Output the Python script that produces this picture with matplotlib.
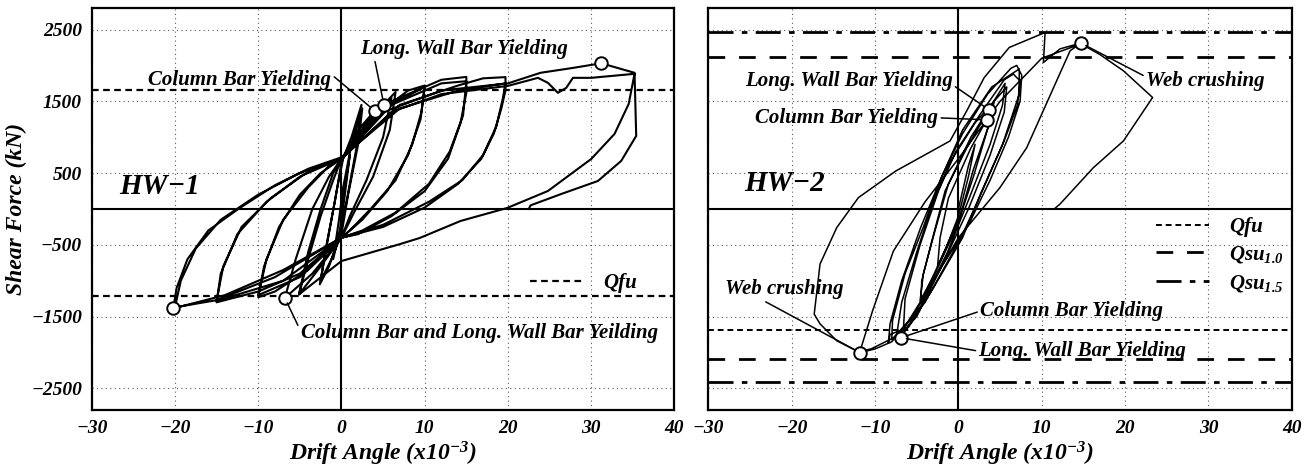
import matplotlib as mpl
mpl.use('Agg')
import matplotlib.pyplot as plt

plt.rc('font', family='Liberation Serif', weight='bold', style='italic', size=14.5)
plt.rc('axes', labelweight='bold')
plt.rc('mathtext', fontset='custom', rm='Liberation Serif:bold:italic',
       it='Liberation Serif:bold:italic', bf='Liberation Serif:bold:italic')

# ---- data (drift x1e-3, shear kN) ----
hw1_drift = [0, 1.0, 0.3, -0.2, -1.0, -0.3, 0.2,
             1.2, 2.5, 2.0, 0.8, 0, -1.2, -2.5, -1.8, -0.8, 0,
             1.2, 2.4, 1.8, 0.6, -0.3, -1.5, -2.6, -1.6, -0.5, 0.2,
             2.0, 4.0, 5.1, 6.0, 5.0, 3.0, 1.0, 0, -2.5, -5.1, -4.0, -2.5, -1.0, 0,
             3, 6.5, 5.8, 3.8, 1.5, 0, -3.5, -6.8, -5.5, -3.5, -1.5, 0,
             4, 8, 10, 9.6, 8.5, 6.5, 3.5, 1, 0, -4, -8, -10, -9.3, -7.5, -5, -2.5, 0,
             5, 10, 9.5, 8, 5.5, 2.5, 0, -5, -10, -9, -7, -4, -1.5, 0,
             5, 10, 12, 15, 15, 14.3, 12.8, 10, 6, 2, 0, -5, -10, -15, -14.5, -12.5, -9, -5, -1.5, 0,
             6, 12, 15, 14.6, 13, 10.5, 6.5, 2.5, 0, -7, -15, -14.2, -12, -8.5, -4.5, 0,
             7, 14, 17, 19.7, 19.7, 19.2, 18.3, 16.8, 14, 10, 5, 0, -7, -14, -20.2, -19.8, -18.5, -16, -12.4, -8, -4, 0,
             7, 14, 19.7, 19.4, 18.6, 17, 14.5, 10.5, 5, 0, -8, -15, -20, -19.3, -17.5, -14.5, -10, -5, 0,
             6, 12, 20, 23.6, 24.8, 26, 27, 27.8, 30, 35.2, 34.5, 32.8, 30, 24.8, 19.9, 14.3, 9.4, 7, 0,
             -5.1, -4, -2.5, -1, 0, 5, 12, 20, 23.9, 27.9, 31.2, 35.2, 35.4, 33.6, 30.8, 26.4, 22.7, 22.5]
hw1_force = [0, 750, 100, -300, -700, -150, 300,
             900, 1400, 900, 200, -350, -700, -1000, -500, 100, 650,
             1000, 1450, 850, 100, -400, -800, -1050, -400, 300, 700,
             1100, 1370, 1450, 1550, 1000, 400, -100, -400, -800, -1190, -600, 0, 500, 700,
             1200, 1630, 1100, 450, -50, -400, -900, -1240, -700, 0, 450, 700,
             1300, 1650, 1720, 1350, 900, 400, 0, -300, -400, -850, -1150, -1230, -800, -250, 200, 500, 700,
             1400, 1700, 1250, 750, 250, -150, -400, -950, -1200, -700, -150, 300, 600, 700,
             1450, 1700, 1800, 1840, 1620, 1200, 700, 250, -100, -350, -400, -900, -1150, -1300, -900, -350, 100, 450, 650, 700,
             1450, 1750, 1780, 1300, 800, 350, -50, -300, -400, -1000, -1280, -800, -250, 150, 480, 700,
             1450, 1720, 1820, 1837, 1650, 1400, 1050, 700, 350, 20, -250, -400, -850, -1200, -1385, -1100, -700, -300, 0, 330, 560, 720,
             1400, 1650, 1750, 1550, 1150, 750, 400, 100, -220, -400, -950, -1270, -1370, -1000, -550, -150, 200, 500, 700,
             1350, 1600, 1715, 1827, 1757, 1618, 1688, 1827, 1827, 1883, 1464, 1046, 697, 251, 14, -167, -404, -490, -725,
             -1190, -700, -100, 400, 700, 1350, 1650, 1750, 1897, 1967, 2030, 1897, 1018, 670, 390, 209, 50, 0]

hw2_drift = [0, 1.2, 2, 1.2, 0, -1.5, -2.5, -2.2, -1.2,
             1.5, 3.4, 3.7, 4.3, 3.6, 1.8, 0.2, -2.5, -4.5, -4.4, -3.2, -1.6,
             1.0, 4.0, 3.6, 1.8, -0.2, -2.8, -4.6, -4.2, -2.8, -1.2,
             1.5, 4.5, 5.6, 5.3, 3.8, 1.3, -1.3, -4.5, -6.9, -7.4, -6.8, -5.0, -3.0, -1,
             2, 5.8, 5.5, 3.8, 1.2, -2, -5, -6.6, -6.4, -4.6, -2.4, -0.3,
             2.5, 5.5, 6.6, 7.0, 7.4, 7.1, 5.5, 2.8, 0.5, -3, -6, -8.2, -8.4, -8.2, -6.8, -4.5, -2, 0.5,
             3.5, 6.3, 7.0, 7.6, 7.4, 6, 3.8, 1.3, -2, -5.5, -8, -7.9, -6.4, -4.2, -2, 0.5,
             4, 7.3, 7.3, 5.3, 2.3, 0.3, -4, -8, -10, -11.8,
             -14.6, -16.6, -17.3, -16.6, -14.6, -12, -7.5, -1, 1, 3.1, 6.1, 10.4,
             10.2, 12.2, 14.7, 13.4, 8.2, 5, 1, 0, -3, -7, -10.5, -11.8,
             -10.3, -7.8, -4, 0, 5, 10, 14.7,
             17, 19.8, 23.3, 19.8, 16.2, 12.2, 11.5]
hw2_force = [0, 600, 900, 450, -100, -550, -800, -400, 150,
             850, 1242, 1380, 1500, 1150, 550, -100, -800, -1300, -1000, -450, 250,
             850, 1450, 1150, 450, -250, -900, -1280, -900, -300, 350,
             1000, 1550, 1750, 1450, 900, 150, -600, -1350, -1794, -1750, -1300, -600, 100, 650,
             1200, 1700, 1350, 750, 0, -800, -1500, -1700, -1250, -500, 250, 800,
             1300, 1800, 1880, 1830, 1790, 1450, 950, 250, -400, -1100, -1650, -1748, -1870, -1600, -1000, -250, 450, 1050,
             1600, 1960, 2000, 1863, 1500, 1000, 400, -200, -800, -1500, -1820, -1550, -900, -250, 450, 1100,
             1700, 1950, 1600, 900, 100, -400, -1300, -1850, -1950, -2001,
             -1835, -1600, -1465, -767, -260, 158, 530, 948, 1367, 1831, 2250, 2459,
             2040, 2231, 2311, 2204, 855, 300, -260, -400, -1000, -1750, -1950, -1980,
             -1420, -586, 100, 700, 1500, 2100, 2300,
             2150, 1925, 1553, 948, 576, 70, 0]

# yield / crushing points marked with circles
hw1_mark_drift = [4.0, 5.1, 31.2, -20.2, -6.8]
hw1_mark_force = [1367, 1450, 2030, -1385, -1240]
hw2_mark_drift = [3.7, 3.4, 14.7, -11.8, -6.9]
hw2_mark_force = [1380, 1242, 2311, -2001, -1794]

# calculated strengths (kN)
hw1_qfu = [1660, -1215]
hw2_qfu = [-1690]
hw2_qsu10 = [2120, -2090]
hw2_qsu15 = [2470, -2410]

xticks = [-30, -20, -10, 0, 10, 20, 30, 40]
yticks = [-2500, -1500, -500, 500, 1500, 2500]

QFU_LS = (0, (3, 2))
QSU10_LS = (0, (6, 5))
QSU15_LS = (0, (9, 3, 2, 3))

fig = plt.figure(figsize=(13.12, 4.70), dpi=100)
ax1 = fig.add_axes([0.0699, 0.1277, 0.4442, 0.8553])
ax2 = fig.add_axes([0.5399, 0.1277, 0.4447, 0.8553])

for ax in (ax1, ax2):
    ax.set_xlim(-30, 40)
    ax.set_ylim(-2800, 2800)
    ax.set_xticks(xticks)
    ax.set_yticks(yticks)
    ax.set_xticklabels([str(t).replace('-', '\u2212') for t in xticks])
    ax.set_yticklabels([str(t).replace('-', '\u2212') for t in yticks])
    ax.grid(True, ls=(0, (1, 3)), color='0.35', lw=0.8)
    ax.axhline(0, color='k', lw=1.5)
    ax.axvline(0, color='k', lw=1.5)
    ax.tick_params(length=0, pad=7, labelsize=14)
    for s in ax.spines.values():
        s.set_linewidth(1.6)
    ax.set_xlabel('Drift Angle (x10$^{-3}$)', fontsize=17, labelpad=2)

ax2.tick_params(labelleft=False)
ax1.set_ylabel('Shear Force (kN)', fontsize=17, labelpad=3)

# hysteresis curves
ax1.plot(hw1_drift, hw1_force, color='k', lw=1.5, zorder=3)
ax2.plot(hw2_drift, hw2_force, color='k', lw=1.1, zorder=3)

# strength lines
for i, q in enumerate(hw1_qfu):
    ax1.axhline(q, color='k', lw=1.6, ls=QFU_LS, label='Qfu' if i == 0 else None)
for i, q in enumerate(hw2_qfu):
    ax2.axhline(q, color='k', lw=1.4, ls=QFU_LS, label='Qfu' if i == 0 else None)
for i, q in enumerate(hw2_qsu10):
    ax2.axhline(q, color='k', lw=2.0, ls=QSU10_LS, label='Qsu$_{1.0}$' if i == 0 else None)
for i, q in enumerate(hw2_qsu15):
    ax2.axhline(q, color='k', lw=2.0, ls=QSU15_LS, label='Qsu$_{1.5}$' if i == 0 else None)

ax1.plot(hw1_mark_drift, hw1_mark_force, 'o', ms=9, mfc='white', mec='k', mew=1.4, zorder=5)
ax2.plot(hw2_mark_drift, hw2_mark_force, 'o', ms=9, mfc='white', mec='k', mew=1.4, zorder=5)

leg_kw = dict(frameon=False, borderpad=0, borderaxespad=0, handlelength=2.5,
              handletextpad=1.0, fontsize=15, loc='center left')
ax1.legend(bbox_to_anchor=(0.752, 0.315), **leg_kw)
ax2.legend(bbox_to_anchor=(0.768, 0.385), labelspacing=0.35, **leg_kw)

arrow = dict(arrowstyle='-', lw=1.1, color='k', shrinkA=0, shrinkB=4)

def note(ax, txt, xytext, xy, ha, relpos):
    ax.annotate(txt, xy=xy, xytext=xytext, ha=ha, va='center', fontsize=15,
                arrowprops=dict(arrow, relpos=relpos), zorder=6)

note(ax1, 'Column Bar Yielding', (-1.2, 1790), (4.0, 1367), 'right', (1.0, 0.8))
note(ax1, 'Long. Wall Bar Yielding', (14.7, 2231), (5.1, 1450), 'center', (0.07, 0.0))
note(ax1, 'Column Bar and Long. Wall Bar Yeilding', (-4.9, -1730), (-6.8, -1240), 'left', (0.0, 0.6))

note(ax2, 'Long. Wall Bar Yielding', (-0.7, 1785), (3.7, 1380), 'right', (1.0, 0.3))
note(ax2, 'Column Bar Yielding', (-2.4, 1270), (3.4, 1242), 'right', (1.0, 0.5))
note(ax2, 'Web crushing', (22.5, 1785), (14.7, 2311), 'left', (0.0, 0.7))
note(ax2, 'Web crushing', (-28, -1116), (-11.8, -2001), 'left', (0.3, 0.0))
note(ax2, 'Column Bar Yielding', (2.6, -1423), (-6.9, -1794), 'left', (0.0, 0.5))
note(ax2, 'Long. Wall Bar Yielding', (2.4, -1980), (-6.9, -1794), 'left', (0.0, 0.5))

ax1.text(-21.9, 320, 'HW\u22121', fontsize=21, ha='center', va='center')
ax2.text(-20.8, 350, 'HW\u22122', fontsize=21, ha='center', va='center')

fig.savefig('out.png', dpi=100)
